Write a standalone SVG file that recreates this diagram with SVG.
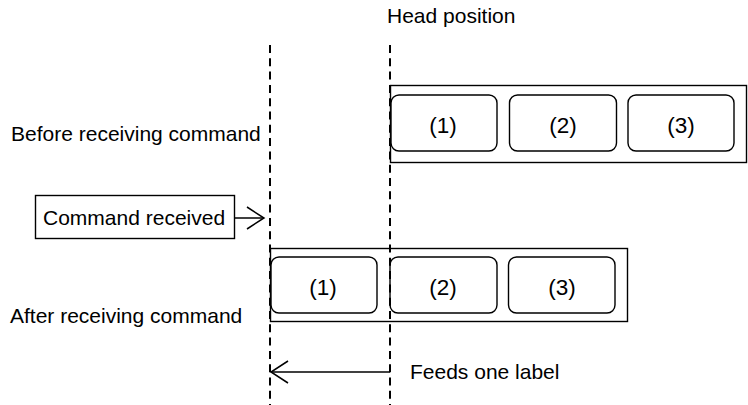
<svg xmlns="http://www.w3.org/2000/svg" width="748" height="405" viewBox="0 0 748 405">
<defs>
<style>
text{font-family:"Liberation Sans",Arial,sans-serif;font-size:21px;fill:#000}
text.num{font-size:22.5px;text-anchor:middle}
.strip{fill:#fff;stroke:#000;stroke-width:1.4}
.lab{fill:#fff;stroke:#000;stroke-width:1.4}
.dash{stroke:#000;stroke-width:2;stroke-dasharray:8 5.3;fill:none}
.ln{stroke:#000;stroke-width:1.5;fill:none}
</style>
<marker id="open" viewBox="0 0 20 24" refX="18" refY="12" markerWidth="20" markerHeight="24" markerUnits="userSpaceOnUse" orient="auto">
<path d="M1,1 L18,12 L1,23" fill="none" stroke="#000" stroke-width="1.5"/>
</marker>
</defs>
<rect width="748" height="405" fill="#fff"/>
<text x="387" y="23">Head position</text>
<g id="before">
<text x="11" y="141">Before receiving command</text>
<rect class="strip" x="390.5" y="85.5" width="356" height="77"/>
<rect class="lab" x="391" y="95" width="106" height="56" rx="8"/>
<text class="num" x="443" y="132.5">(1)</text>
<rect class="lab" x="509.5" y="95" width="107" height="56" rx="8"/>
<text class="num" x="563" y="132.5">(2)</text>
<rect class="lab" x="628" y="95" width="106" height="56" rx="8"/>
<text class="num" x="681" y="132.5">(3)</text>
</g>
<g id="command">
<rect class="strip" x="35.5" y="195.5" width="199" height="43"/>
<text x="43" y="225">Command received</text>
</g>
<g id="after">
<text x="10" y="323">After receiving command</text>
<rect class="strip" x="270.5" y="248.5" width="357" height="73"/>
<rect class="lab" x="271" y="257" width="106" height="56" rx="8"/>
<text class="num" x="323" y="295">(1)</text>
<rect class="lab" x="390" y="257" width="107" height="56" rx="8"/>
<text class="num" x="443" y="295">(2)</text>
<rect class="lab" x="508.5" y="257" width="106.5" height="56" rx="8"/>
<text class="num" x="562" y="295">(3)</text>
</g>
<g id="connectors">
<line class="dash" x1="270" y1="45" x2="270" y2="405"/>
<line class="dash" x1="390" y1="45" x2="390" y2="405"/>
<line class="ln" x1="235" y1="218" x2="264" y2="218" marker-end="url(#open)"/>
<line class="ln" x1="390" y1="372" x2="271" y2="372" marker-end="url(#open)"/>
</g>
<text x="410" y="379">Feeds one label</text>
</svg>
